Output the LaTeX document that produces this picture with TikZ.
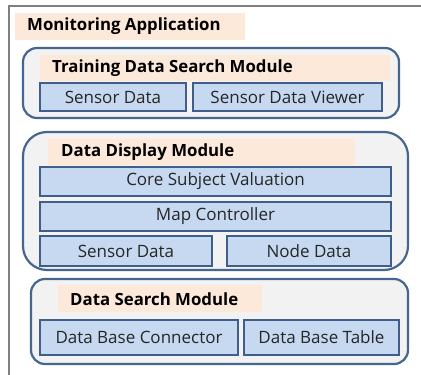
\documentclass[tikz,border=0pt]{standalone}
\usepackage{fontspec}
\setmainfont{Open Sans}
\definecolor{peach}{HTML}{FDE9D9}
\definecolor{boxblue}{HTML}{C6D9F1}
\definecolor{boxedge}{HTML}{3F5F8A}
\definecolor{modedge}{HTML}{45678F}
\definecolor{modfill}{HTML}{F2F2F2}
\definecolor{framegray}{HTML}{808080}
\tikzset{
  modbox/.style={draw=modedge, fill=modfill, line width=2.2pt},
  peachbar/.style={fill=peach, draw=none, inner sep=0pt, anchor=north west},
  bluebox/.style={draw=boxedge, fill=boxblue, line width=1.8pt, inner sep=0pt, font=\fontsize{17}{19}\selectfont, text=black!85},
  headtxt/.style={font=\bfseries\fontsize{16.8}{19}\selectfont, anchor=west, inner sep=0pt, text=black},
}
\begin{document}
\begin{tikzpicture}[x=1pt,y=-1pt]
\useasboundingbox (0,0) rectangle (421,375);
\fill[white] (0,0) rectangle (421,375);
% outer frame
\draw[framegray, line width=2.4pt] (9,375) -- (9,6) -- (421,6);
% title
\node[peachbar, minimum width=230pt, minimum height=27pt] (tbar) at (15,13) {};
\node[headtxt] (title) at (27,26.5) {Monitoring Application};
% module 1
\draw[modbox, rounded corners=14pt] (23,48) rectangle (399,118);
\node[peachbar, minimum width=350pt, minimum height=26pt] (h1bar) at (40,55) {};
\node[headtxt] (h1) at (52,68.5) {Training Data Search Module};
\node[bluebox, minimum width=146pt, minimum height=28pt] (sd1) at (113,97) {Sensor Data};
\node[bluebox, minimum width=189pt, minimum height=28pt] (sdv) at (287.5,97) {Sensor Data Viewer};
% module 2
\draw[modbox, rounded corners=24pt] (23,132) rectangle (408,270);
\node[peachbar, minimum width=307pt, minimum height=26pt] (h2bar) at (48,139) {};
\node[headtxt] (h2) at (61,152.5) {Data Display Module};
\node[bluebox, minimum width=351pt, minimum height=29pt] (csv) at (215.5,181.5) {Core Subject Valuation};
\node[bluebox, minimum width=351pt, minimum height=29pt] (mc) at (215.5,216.5) {Map Controller};
\node[bluebox, minimum width=172pt, minimum height=30pt] (sd2) at (126,251) {Sensor Data};
\node[bluebox, minimum width=164pt, minimum height=30pt] (nd) at (309,251) {Node Data};
% module 3
\draw[modbox, rounded corners=14pt] (31,279) rectangle (408,364);
\node[peachbar, minimum width=204pt, minimum height=27pt] (h3bar) at (58,285) {};
\node[headtxt] (h3) at (70,299) {Data Search Module};
\node[bluebox, minimum width=198pt, minimum height=35pt] (dbc) at (139,337.5) {Data Base Connector};
\node[bluebox, minimum width=155pt, minimum height=35pt] (dbt) at (321.5,337.5) {Data Base Table};
\end{tikzpicture}
\end{document}
